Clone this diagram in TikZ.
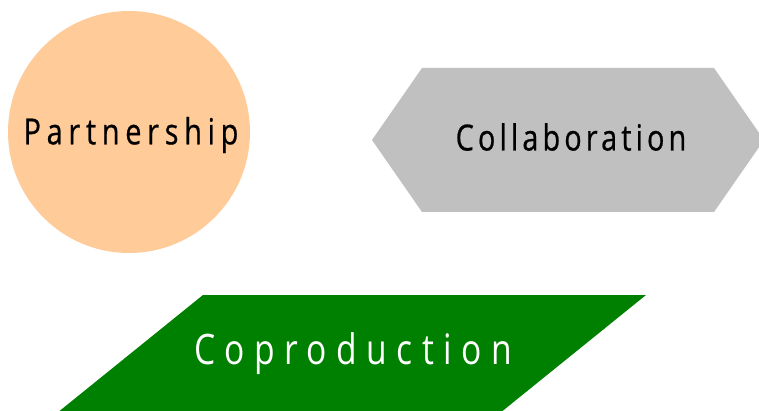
\documentclass[tikz,border=0pt]{standalone}
\usepackage{fontspec}
\setmainfont{Open Sans}
\newfontfamily\pfont{Open Sans}[FakeStretch=0.8,LetterSpace=16,FakeBold=0.6]
\newfontfamily\cfont{Open Sans}[FakeStretch=0.8,LetterSpace=11.5,FakeBold=0.6]
\newfontfamily\gfont{Open Sans}[FakeStretch=0.8,LetterSpace=22.5]
\definecolor{peach}{HTML}{FFCB99}
\definecolor{greyfill}{HTML}{C0C0C0}
\definecolor{darkgreen}{HTML}{008000}
\begin{document}
\begin{tikzpicture}[x=1pt,y=-1pt,
  lbl/.style={inner sep=0pt,anchor=center}]
\useasboundingbox (0,0) rectangle (759,411);
\begin{scope}
\clip (0,0) rectangle (759,411);
\fill[peach] (129,132) circle (121);
\fill[greyfill] (372,140) -- (422,68) -- (714,68) -- (764,140) -- (714,212) -- (422,212) -- cycle;
\fill[darkgreen] (203,295) -- (646,295) -- (500,413) -- (57,413) -- cycle;
\end{scope}
\node[lbl] (p) at (131,135) {\fontsize{36}{40}\pfont Partnership};
\node[lbl] (c) at (571,137) {\fontsize{36}{40}\cfont Collaboration};
\node[lbl,text=white] (g) at (353,354) {\fontsize{42}{46}\gfont Coproduction};
\end{tikzpicture}
\end{document}
